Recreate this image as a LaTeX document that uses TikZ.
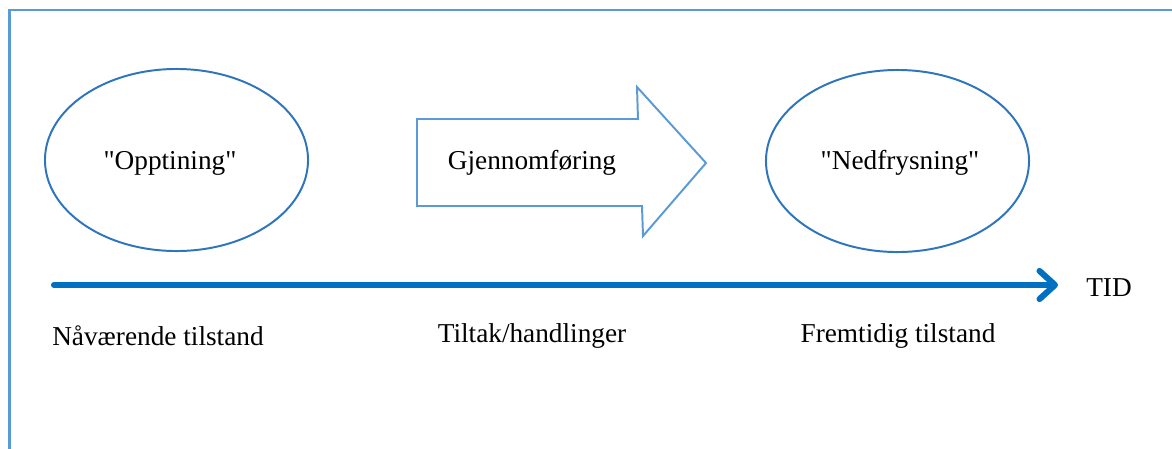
\documentclass[tikz,border=0pt]{standalone}
\usepackage{fontspec}
\setmainfont{Liberation Serif}
\usetikzlibrary{shapes.geometric, arrows.meta}
\definecolor{framblue}{RGB}{91,155,213}
\definecolor{ringblue}{RGB}{46,117,190}
\definecolor{tidblue}{RGB}{0,112,192}

\begin{document}
\begin{tikzpicture}[x=0.025cm, y=-0.025cm,
  every node/.style={font=\fontsize{19.4}{23}\selectfont, inner sep=0pt},
  fase/.style={ellipse, draw=ringblue, line width=1.4pt, minimum width=6.575cm, minimum height=4.55cm},
  tidslinje/.style={draw=tidblue, line width=4.3pt, line cap=round, -{Straight Barb[length=11pt, width=20pt, round]}}]
\useasboundingbox (0,0) rectangle (1172,448);
% ramme
\draw[framblue, line width=2.1pt] (9.5,460) -- (9.5,10) -- (1180,10);
% faser
\node[fase] (opptining) at (176.5,160) {};
\node (opptekst) at (170,163) {\textquotedbl Opptining\textquotedbl};
\node[fase] (nedfrys) at (897.5,161) {};
\node (nedtekst) at (900,163) {\textquotedbl Nedfrysning\textquotedbl};
% blokkpil
\draw[framblue, line width=1.4pt, line join=miter] (417,119) -- (638,119) -- (637,87) -- (706,163)
  -- (643,236) -- (642,206) -- (417,206) -- cycle;
\node (gjennom) at (532,163) {Gjennomføring};
% tid
\coordinate (start) at (54,285);
\coordinate (slutt) at (1058,285);
\draw[tidslinje] (start) -- (slutt);
\node[anchor=west] (tid) at (1086,288) {TID};
\node[anchor=west] (naa) at (52,336) {Nåværende tilstand};
\node (tiltak) at (532,336) {Tiltak/handlinger};
\node (fremtid) at (898,336) {Fremtidig tilstand};
\end{tikzpicture}
\end{document}
